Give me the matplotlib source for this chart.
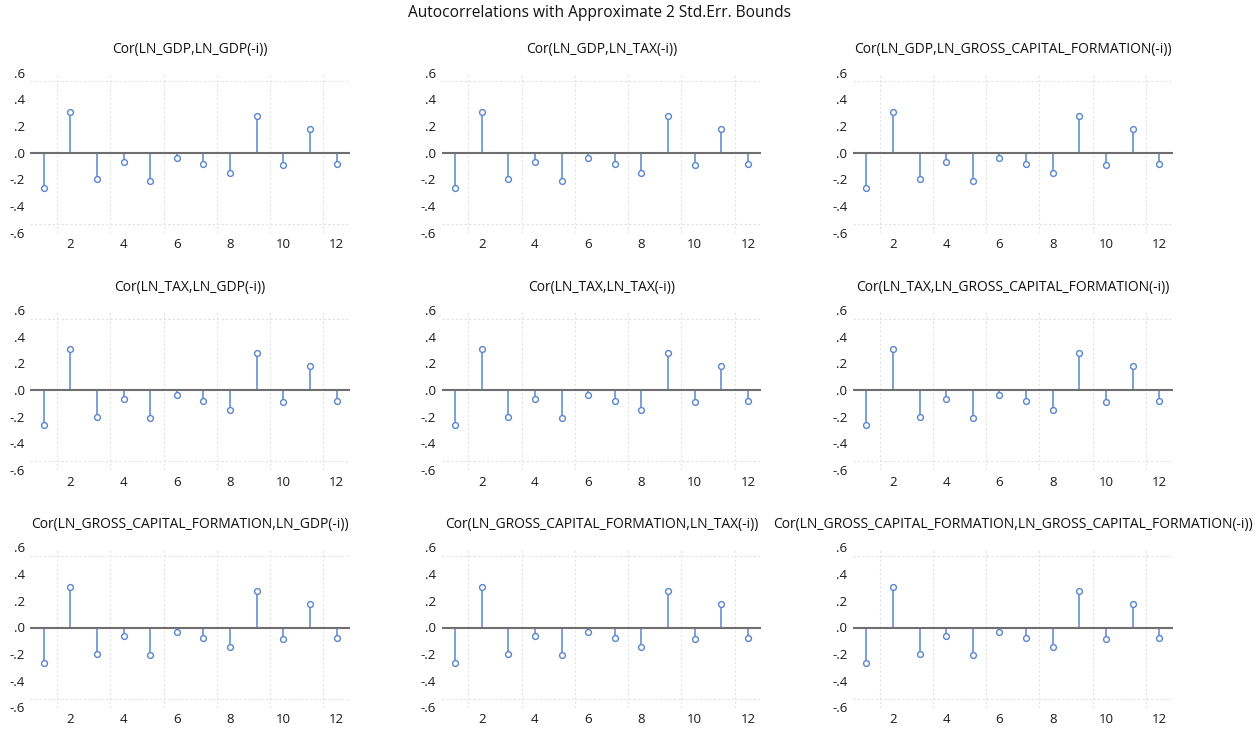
import matplotlib
matplotlib.use("Agg")
import matplotlib.pyplot as plt
import numpy as np

plt.rcParams['font.family'] = ['Open Sans', 'DejaVu Sans']

lags = list(range(1, 13))
acf_values = [-0.266, 0.306, -0.199, -0.067, -0.209, -0.037, -0.082, -0.149, 0.276, -0.089, 0.179, -0.082]
bound = 0.5345
panel_titles = [
    "Cor(LN_GDP,LN_GDP(-i))",
    "Cor(LN_GDP,LN_TAX(-i))",
    "Cor(LN_GDP,LN_GROSS_CAPITAL_FORMATION(-i))",
    "Cor(LN_TAX,LN_GDP(-i))",
    "Cor(LN_TAX,LN_TAX(-i))",
    "Cor(LN_TAX,LN_GROSS_CAPITAL_FORMATION(-i))",
    "Cor(LN_GROSS_CAPITAL_FORMATION,LN_GDP(-i))",
    "Cor(LN_GROSS_CAPITAL_FORMATION,LN_TAX(-i))",
    "Cor(LN_GROSS_CAPITAL_FORMATION,LN_GROSS_CAPITAL_FORMATION(-i))",
]
y_ticks = [0.6, 0.4, 0.2, 0.0, -0.2, -0.4, -0.6]
y_ticklabels = [".6", ".4", ".2", ".0", "-.2", "-.4", "-.6"]
x_ticks = [2, 4, 6, 8, 10, 12]

W, H = 1258, 729
fig = plt.figure(figsize=(W / 100, H / 100), dpi=100)

col_left = [30.4, 441.7, 853.0]
col_width = 319.5
row_top = [72.7, 310.0, 547.5]
row_height = 160.0

stem_color = "#5A86CC"
for idx, title in enumerate(panel_titles):
    r, c = divmod(idx, 3)
    ax = fig.add_axes([col_left[c] / W, 1 - (row_top[r] + row_height) / H, col_width / W, row_height / H])
    ax.set_xlim(0.5, 12.5)
    ax.set_ylim(-0.6, 0.6)
    for s in ax.spines.values():
        s.set_visible(False)
    # vertical grid between lags
    for gx in np.arange(1.5, 12.5, 2):
        ax.axvline(gx, color="#E2E2E2", lw=0.8, ls=(0, (2, 2)), zorder=0)
    # std err bounds
    ax.axhline(bound, color="#E2E2E2", lw=0.8, ls=(0, (2, 2)), zorder=0)
    ax.axhline(-bound, color="#E2E2E2", lw=0.8, ls=(0, (2, 2)), zorder=0)
    ax.vlines(lags, 0, acf_values, color=stem_color, lw=1.1, zorder=2)
    ax.axhline(0, color="#6E6E6E", lw=1.5, zorder=3)
    ax.plot(lags, acf_values, ls="none", marker="o", ms=4.2, mfc="white", mec=stem_color, mew=1.0, zorder=4)
    ax.set_yticks(y_ticks)
    ax.set_yticklabels(y_ticklabels)
    ax.set_xticks(x_ticks)
    ax.tick_params(length=0, labelsize=9.5, colors="#1A1A1A", pad=4)
    for lbl in ax.get_yticklabels():
        lbl.set_horizontalalignment("right")
    ax.set_title(title, fontsize=10, color="#111111", pad=14)

fig.text(600 / W, 1 - 13 / H, "Autocorrelations with Approximate 2 Std.Err. Bounds",
         ha="center", va="center", fontsize=11.2, color="#111111")

fig.savefig("out.png", dpi=100, facecolor="white")
